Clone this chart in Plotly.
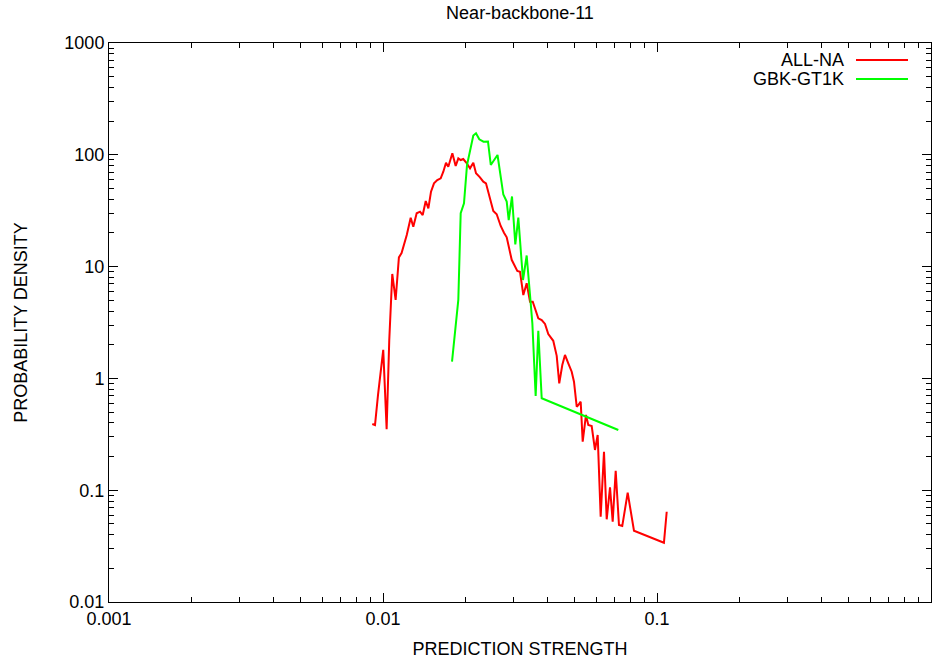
import plotly.graph_objects as go

# ALL-NA series
all_na_x = [0.00914, 0.00935, 0.00959, 0.01002, 0.01031, 0.01054, 0.01081, 0.01112, 0.01143, 0.01169,
            0.01221, 0.01262, 0.01290, 0.01327, 0.01365, 0.01396, 0.01432, 0.01464, 0.01497, 0.01535,
            0.01578, 0.01624, 0.01660, 0.01698, 0.01731, 0.01791, 0.01842, 0.01883, 0.01921, 0.01963,
            0.02009, 0.02078, 0.02136, 0.02185, 0.02259, 0.02323, 0.02376, 0.02443, 0.02527, 0.02600,
            0.02689, 0.02764, 0.02828, 0.02949, 0.03091, 0.03162, 0.03252, 0.03345, 0.03440, 0.03520,
            0.03688, 0.03795, 0.03902, 0.04011, 0.04182, 0.04305, 0.04398, 0.04512, 0.04615, 0.04745,
            0.04883, 0.04978, 0.05093, 0.05162, 0.05266, 0.05356, 0.05506, 0.05614, 0.05776, 0.05937,
            0.06074, 0.06229, 0.06405, 0.06553, 0.06738, 0.06891, 0.07067, 0.07265, 0.07468, 0.07817,
            0.08241, 0.1060, 0.1085]
all_na_y = [0.391, 0.383, 0.711, 1.80, 0.351, 2.2, 8.59, 5.03, 12.1, 13.2,
            19.2, 27.4, 22.7, 30.0, 31.0, 28.9, 38.6, 33.2, 46.8, 55.6,
            59.5, 61.6, 70.6, 85.0, 78.3, 103.1, 79.4, 93.0, 89.8, 91.7,
            85.7, 75.7, 85.0, 68.3, 62.9, 57.5, 55.6, 42.8, 31.4, 29.4,
            23.1, 20.1, 18.3, 11.5, 9.13, 9.0, 5.57, 7.09, 4.85, 4.85,
            3.45, 3.33, 3.07, 2.49, 2.17, 1.59, 0.904, 1.318, 1.62, 1.365,
            1.148, 0.934, 0.558, 0.578, 0.619, 0.272, 0.471, 0.383, 0.375, 0.229,
            0.312, 0.058, 0.221, 0.0549, 0.106, 0.0523, 0.149, 0.0489, 0.0478, 0.095,
            0.0434, 0.0339, 0.0642]

# GBK-GT1K series
gbk_x = [0.01786, 0.01883, 0.01921, 0.01975, 0.02026, 0.02086, 0.02136, 0.02185, 0.02246, 0.02327,
         0.02416, 0.02474, 0.02618, 0.02749, 0.02828, 0.02876, 0.02957, 0.03040, 0.03118, 0.03243,
         0.03345, 0.03440, 0.03508, 0.03607, 0.03688, 0.03795, 0.07224]
gbk_y = [1.41, 5.03, 30.0, 36.8, 81.1, 110.4, 148.8, 155.7, 137.6, 131.0,
         131.5, 81.1, 99.6, 44.1, 38.1, 26.1, 42.4, 15.8, 27.4, 7.59,
         12.57, 5.57, 3.11, 0.696, 2.67, 0.664, 0.3455]

series_names = ["ALL-NA", "GBK-GT1K"]
series_colors = ["#ff0000", "#00ff00"]

x_tickvals = [0.001, 0.01, 0.1, 1]
x_ticktext = ["0.001", "0.01", "0.1", "1"]
y_tickvals = [0.01, 0.1, 1, 10, 100, 1000]
y_ticktext = ["0.01", "0.1", "1", "10", "100", "1000"]
minor_digits = [2, 3, 4, 5, 6, 7, 8, 9]

def minor_vals(decades):
    return [m * d for d in decades for m in minor_digits]

FONT = "Liberation Sans, Arial, Helvetica, sans-serif"
W, H = 932, 661
L, R, T, B = 109, 1, 43, 59

fig = go.Figure()
fig.add_trace(go.Scatter(x=all_na_x, y=all_na_y, mode="lines", name=series_names[0],
                         line=dict(color=series_colors[0], width=2), showlegend=False))
fig.add_trace(go.Scatter(x=gbk_x, y=gbk_y, mode="lines", name=series_names[1],
                         line=dict(color=series_colors[1], width=2), showlegend=False))

def axis_common(minor_ticks):
    return dict(
        type="log", showgrid=False, zeroline=False, showline=True, linecolor="black", linewidth=1,
        mirror="allticks", ticks="inside", ticklen=9, tickcolor="black", tickwidth=1,
        tickfont=dict(family=FONT, size=18, color="black"),
        minor=dict(ticks="inside", ticklen=5, tickcolor="black", tickwidth=1, showgrid=False,
                   tickmode="array", tickvals=minor_ticks),
    )

fig.update_xaxes(range=[-3, 0], tickmode="array", tickvals=x_tickvals, ticktext=x_ticktext,
                 title=dict(text="PREDICTION STRENGTH", font=dict(family=FONT, size=18, color="black"), standoff=14),
                 **axis_common(minor_vals(x_tickvals[:-1])))
fig.update_yaxes(range=[-2, 3], tickmode="array", tickvals=y_tickvals, ticktext=y_ticktext,
                 title=dict(text="PROBABILITY DENSITY", font=dict(family=FONT, size=18, color="black"), standoff=32),
                 **axis_common(minor_vals(y_tickvals[:-1])))

# legend in gnuplot style: text right-aligned, line sample to the right
pw = W - L - R
ph = H - T - B
def px_x(p):
    return (p - L) / pw
def px_y(p):
    return 1 - (p - T) / ph

legend_rows = [60, 79]
shapes = []
annotations = []
for name, color, yy in zip(series_names, series_colors, legend_rows):
    annotations.append(dict(x=px_x(846), y=px_y(yy), xref="paper", yref="paper", text=name,
                            showarrow=False, xanchor="right", yanchor="middle",
                            font=dict(family=FONT, size=18, color="black")))
    shapes.append(dict(type="line", xref="paper", yref="paper", x0=px_x(856), x1=px_x(908),
                       y0=px_y(yy), y1=px_y(yy), line=dict(color=color, width=2)))

fig.update_layout(
    width=W, height=H, margin=dict(l=L, r=R, t=T, b=B),
    paper_bgcolor="white", plot_bgcolor="white",
    title=dict(text="Near-backbone-11", x=(L + pw / 2) / W, xanchor="center",
               y=1 - 13 / H, yanchor="middle", yref="container",
               font=dict(family=FONT, size=18, color="black")),
    shapes=shapes, annotations=annotations, showlegend=False,
)

fig.write_html("out.html")
